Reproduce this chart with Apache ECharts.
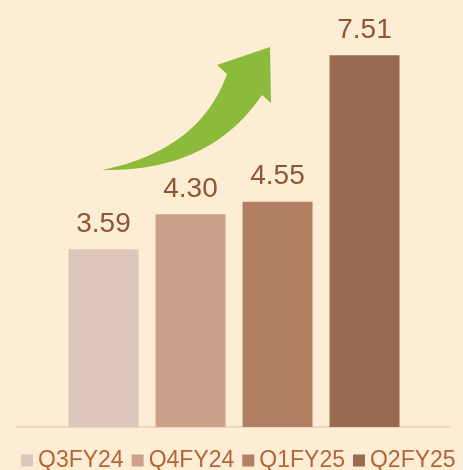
<!DOCTYPE html>
<html>
<head>
<meta charset="utf-8">
<script src="https://cdn.jsdelivr.net/npm/echarts@6/dist/echarts.min.js"></script>
<style>
html,body{margin:0;padding:0;background:#feedd5;}
#chart{width:463px;height:470px;}
</style>
</head>
<body>
<div id="chart"></div>
<script>
const categories = ['Q3FY24', 'Q4FY24', 'Q1FY25', 'Q2FY25'];
const values = [3.59, 4.30, 4.55, 7.51];
const labels = ['3.59', '4.30', '4.55', '7.51'];
const colors = ['#dfc6bb', '#cba18a', '#b37f62', '#986a4f'];

function quad(p0, c, p2, n) {
  const pts = [];
  for (let k = 0; k <= n; k++) {
    const t = k / n, u = 1 - t;
    pts.push([u*u*p0[0] + 2*u*t*c[0] + t*t*p2[0], u*u*p0[1] + 2*u*t*c[1] + t*t*p2[1]]);
  }
  return pts;
}
const arrowPts = [].concat(
  quad([102, 170], [200, 150], [227, 74], 24),
  [[217, 65], [270, 47], [271, 103]],
  quad([262, 95], [210, 172], [102, 170], 24)
);

const chart = echarts.init(document.getElementById('chart'));
const series = categories.map((name, i) => ({
  name: name,
  type: 'bar',
  xAxisIndex: 0,
  yAxisIndex: 0,
  barWidth: 70,
  barGap: '-100%',
  itemStyle: { color: colors[i] },
  label: {
    show: true,
    position: 'top',
    distance: 11,
    color: '#8e5634',
    fontSize: 28,
    fontFamily: 'Liberation Sans, Arial, sans-serif',
    formatter: () => labels[i]
  },
  data: categories.map((c, j) => (j === i ? values[i] : '-'))
}));

chart.setOption({
  backgroundColor: '#feedd5',
  animation: false,
  grid: [
    { left: 60, right: 55, top: 31, bottom: 43 },
    { left: 17, right: 13, top: 31, bottom: 43 }
  ],
  xAxis: [
    { type: 'category', gridIndex: 0, data: categories,
      axisLine: { show: false }, axisTick: { show: false }, axisLabel: { show: false } },
    { type: 'category', gridIndex: 1, data: [''],
      axisLine: { show: true, lineStyle: { color: '#f3d3c2', width: 2 } },
      axisTick: { show: false }, axisLabel: { show: false } }
  ],
  yAxis: [
    { type: 'value', gridIndex: 0, min: 0, max: 8, show: false },
    { type: 'value', gridIndex: 1, min: 0, max: 8, show: false }
  ],
  legend: {
    data: categories,
    icon: 'rect',
    itemWidth: 12,
    itemHeight: 12,
    itemGap: 8,
    left: 16,
    top: 449,
    width: 460,
    padding: [0, 5, 0, 5],
    textStyle: { fontSize: 23, color: '#b3653a', fontFamily: 'Liberation Sans, Arial, sans-serif' }
  },
  graphic: [{
    type: 'polygon',
    shape: { points: arrowPts },
    style: { fill: '#8cbb3b' },
    z: 10
  }],
  series: series
});
</script>
</body>
</html>
